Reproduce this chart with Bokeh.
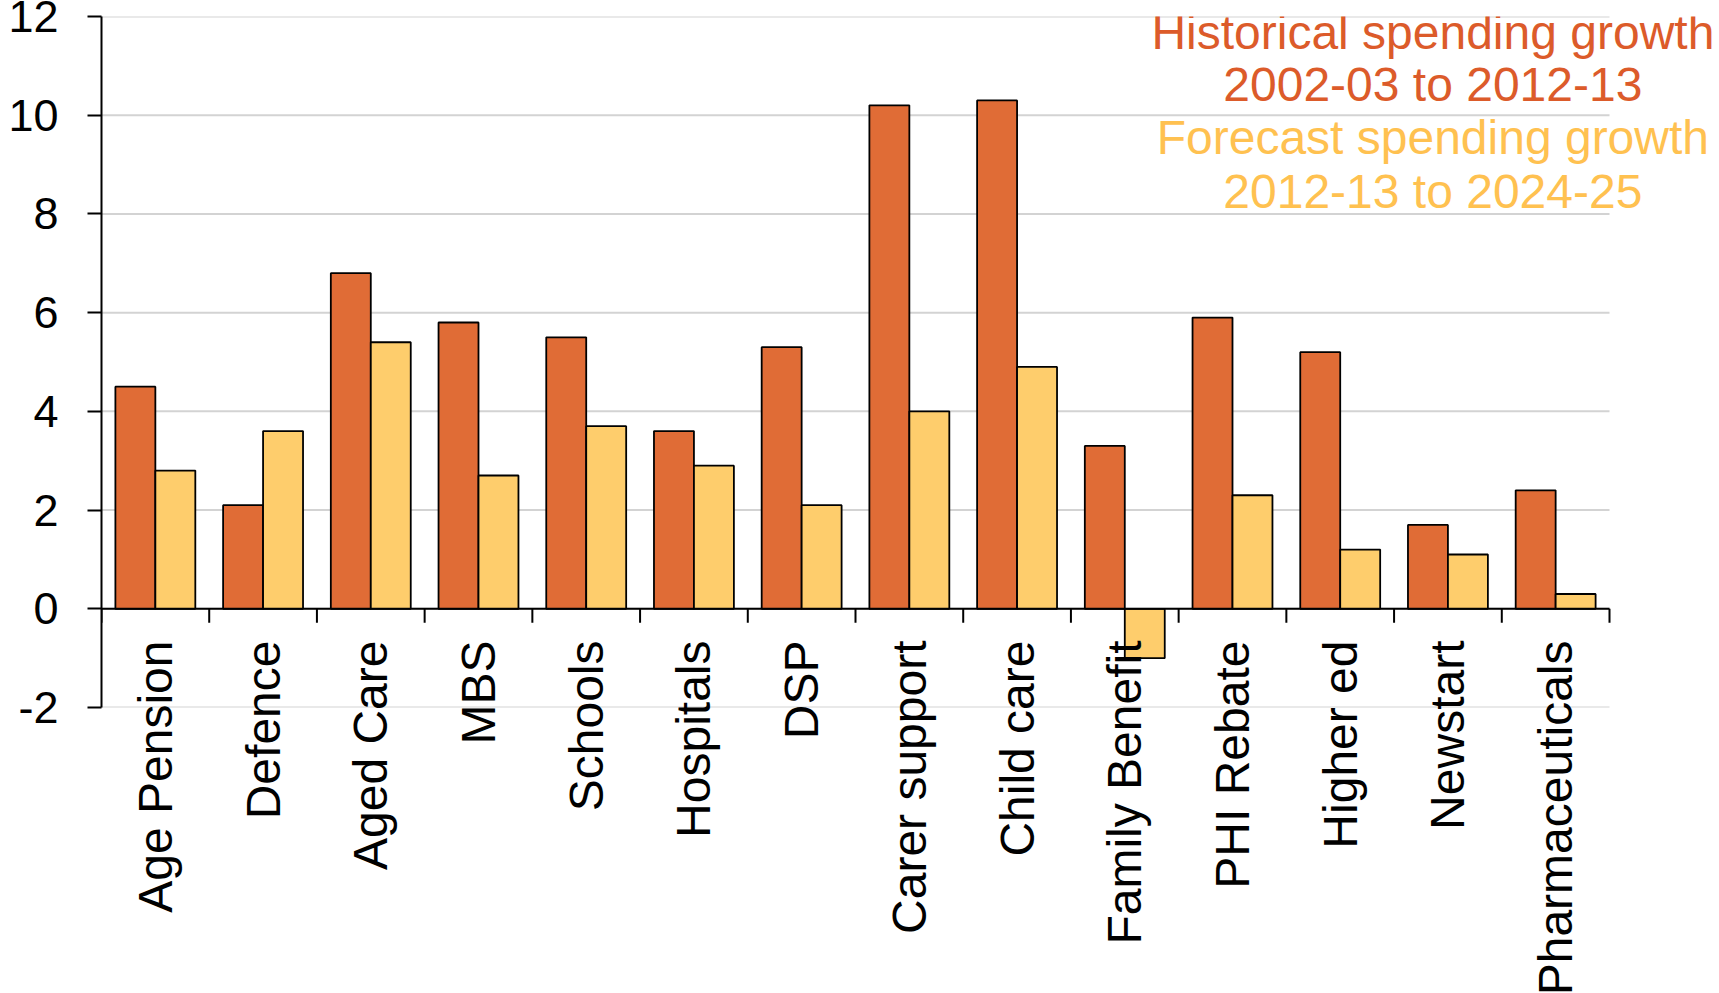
import math
from bokeh.plotting import figure
from bokeh.models import ColumnDataSource, FixedTicker, Range1d, Label
from bokeh.embed import file_html
from bokeh.resources import INLINE

# Spending programs and average annual real growth (%)
categories = ["Age Pension", "Defence", "Aged Care", "MBS", "Schools", "Hospitals",
              "DSP", "Carer support", "Child care", "Family Benefit", "PHI Rebate",
              "Higher ed", "Newstart", "Pharmaceuticals"]
historical = [4.5, 2.1, 6.8, 5.8, 5.5, 3.6, 5.3, 10.2, 10.3, 3.3, 5.9, 5.2, 1.7, 2.4]
forecast = [2.8, 3.6, 5.4, 2.7, 3.7, 2.9, 2.1, 4.0, 4.9, -1.0, 2.3, 1.2, 1.1, 0.3]
y_ticks = [-2, 0, 2, 4, 6, 8, 10, 12]
y_tick_labels = ["-2", "0", "2", "4", "6", "8", "10", "12"]
legend_lines = [("Historical spending growth", "hist"), ("2002-03 to 2012-13", "hist"),
                ("Forecast spending growth", "fc"), ("2012-13 to 2024-25", "fc")]

HIST_FILL = "#E06C36"
FC_FILL = "#FECD6C"
HIST_TEXT = "#DC5B2A"
FC_TEXT = "#FFC150"
FONT = "Liberation Sans"

# canvas layout (pixels)
W, H = 1719, 993
LEFT, TOP = 101, 16
PLOT_W, PLOT_H = 1508, 691          # width covered by the categories, frame height
FRAME_W = W - LEFT                  # frame runs to the right edge so the key is not cut

n = len(categories)
bar_w = 0.371
centers = [i + 0.5 for i in range(n)]
src = ColumnDataSource(dict(
    x_hist=[c - bar_w / 2 for c in centers],
    x_fc=[c + bar_w / 2 for c in centers],
    hist=historical,
    fc=forecast,
    zero=[0] * n,
))

x_end = n * FRAME_W / PLOT_W
p = figure(frame_width=FRAME_W, frame_height=PLOT_H,
           output_backend="svg", toolbar_location=None,
           x_range=Range1d(0, x_end), y_range=Range1d(y_ticks[0], y_ticks[-1]),
           min_border_left=LEFT, min_border_right=0,
           min_border_top=TOP, min_border_bottom=H - TOP - PLOT_H)
p.outline_line_color = None
p.background_fill_color = "white"
p.border_fill_color = "white"
p.xgrid.visible = False
p.ygrid.visible = False

# horizontal gridlines over the category span only
p.segment(x0=[0] * len(y_ticks), x1=[n] * len(y_ticks), y0=y_ticks, y1=y_ticks,
          line_color="#D3D3D3", line_width=2)

# value axis on the left
ax = p.yaxis[0]
ax.ticker = FixedTicker(ticks=y_ticks)
ax.major_label_overrides = dict(zip(y_ticks, y_tick_labels))
ax.axis_line_color = "black"
ax.axis_line_width = 2
ax.major_tick_line_color = "black"
ax.major_tick_line_width = 2
ax.major_tick_out = 14
ax.major_tick_in = 0
ax.minor_tick_line_color = None
ax.major_label_text_font = FONT
ax.major_label_text_font_size = "45px"
ax.major_label_text_color = "black"
ax.major_label_standoff = 29

# paired bars
p.vbar(x="x_hist", width=bar_w, bottom="zero", top="hist", source=src,
       fill_color=HIST_FILL, line_color="black", line_width=1.8)
p.vbar(x="x_fc", width=bar_w, bottom="zero", top="fc", source=src,
       fill_color=FC_FILL, line_color="black", line_width=1.8)

# category axis line along zero with boundary ticks
p.segment(x0=[0], x1=[n], y0=[0], y1=[0], line_color="black", line_width=2)
bounds = list(range(n + 1))
p.ray(x=bounds, y=[0] * len(bounds), length=14, length_units="screen",
      angle=-math.pi / 2, line_color="black", line_width=2)

# category names: bottom axis labels pulled up to sit just under the zero line
xa = p.xaxis[0]
xa.ticker = FixedTicker(ticks=centers)
xa.major_label_overrides = {c: name for c, name in zip(centers, categories)}
xa.major_label_orientation = math.pi / 2
xa.axis_line_color = None
xa.major_tick_line_color = None
xa.minor_tick_line_color = None
xa.major_tick_out = 0
xa.major_tick_in = 0
xa.major_label_standoff = -67
xa.major_label_text_font = FONT
xa.major_label_text_font_size = "48px"
xa.major_label_text_color = "black"

# series key in the top-right corner
legend_x = 12.36
legend_y = [11.68, 10.63, 9.55, 8.46]
for (txt, key), ly in zip(legend_lines, legend_y):
    p.add_layout(Label(x=legend_x, y=ly, text=txt, text_align="center",
                       text_baseline="alphabetic", text_font=FONT,
                       text_font_size="48px",
                       text_color=HIST_TEXT if key == "hist" else FC_TEXT))

open("out.html", "w").write(file_html(p, INLINE))
